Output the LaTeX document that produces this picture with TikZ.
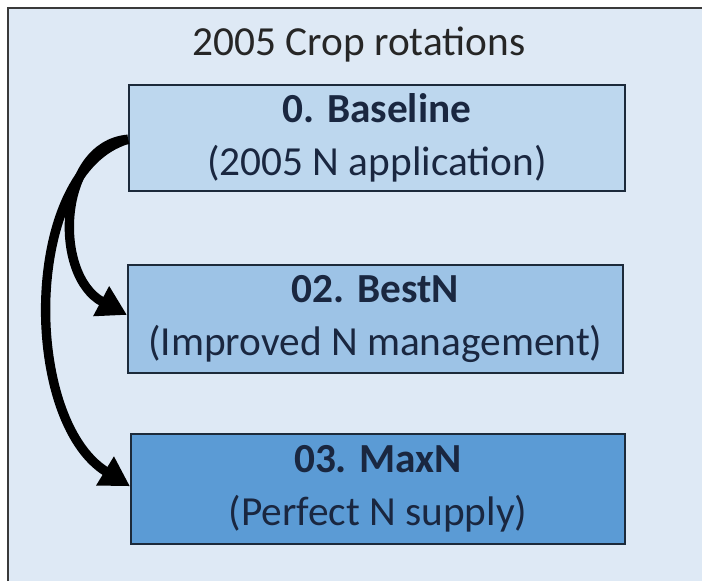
\documentclass[tikz,border=0pt]{standalone}
\usepackage{fontspec}
\setmainfont{Carlito}
\usetikzlibrary{arrows.meta}
\definecolor{panelbg}{HTML}{DEE9F5}
\definecolor{frameline}{HTML}{3A3A3A}
\definecolor{boxline}{HTML}{1C2A3A}
\definecolor{boxtext}{HTML}{1A2740}
\definecolor{fillA}{HTML}{BDD7EE}
\definecolor{fillB}{HTML}{9DC3E6}
\definecolor{fillC}{HTML}{5B9BD5}
\tikzset{
  scenario/.style={draw=boxline, line width=1.4pt, anchor=north west,
    minimum width=372pt, minimum height=80pt, inner sep=0pt,
    align=center, text=boxtext, font=\fontsize{31}{40}\selectfont},
  flow/.style={line width=7pt, draw=black, -{Triangle[length=22pt,width=24pt]}},
}
\begin{document}
\begin{tikzpicture}[x=0.75pt, y=-0.75pt]
  \useasboundingbox (0,0) rectangle (702,581);
  % panel
  \fill[panelbg] (8,8) rectangle (702,581);
  \draw[frameline, line width=1.6pt] (8,581) -- (8,8) -- (702,8);
  % title
  \node[text=black!85, font=\fontsize{31}{36}\selectfont] (title) at (359,45) {2005 Crop rotations};
  % scenarios
  \node[scenario, fill=fillA, minimum height=79.5pt] (base) at (128,84)
    {\textbf{0. Baseline}\\(2005 N application)};
  \node[scenario, fill=fillB, minimum width=371pt, minimum height=81pt] (best) at (127,264)
    {\textbf{02. BestN}\\(Improved N management)};
  \node[scenario, fill=fillC, minimum width=370.5pt, minimum height=82.5pt] (max) at (130,433)
    {\textbf{03. MaxN}\\(Perfect N supply)};
  % connectors
  \draw[flow] ([yshift=-1pt]base.west) .. controls (58,145) and (52,275) .. ([yshift=3pt]best.west);
  \draw[flow] ([yshift=-1pt]base.west) .. controls (22,170) and (22,420) .. ([yshift=2pt]max.west);
\end{tikzpicture}
\end{document}
